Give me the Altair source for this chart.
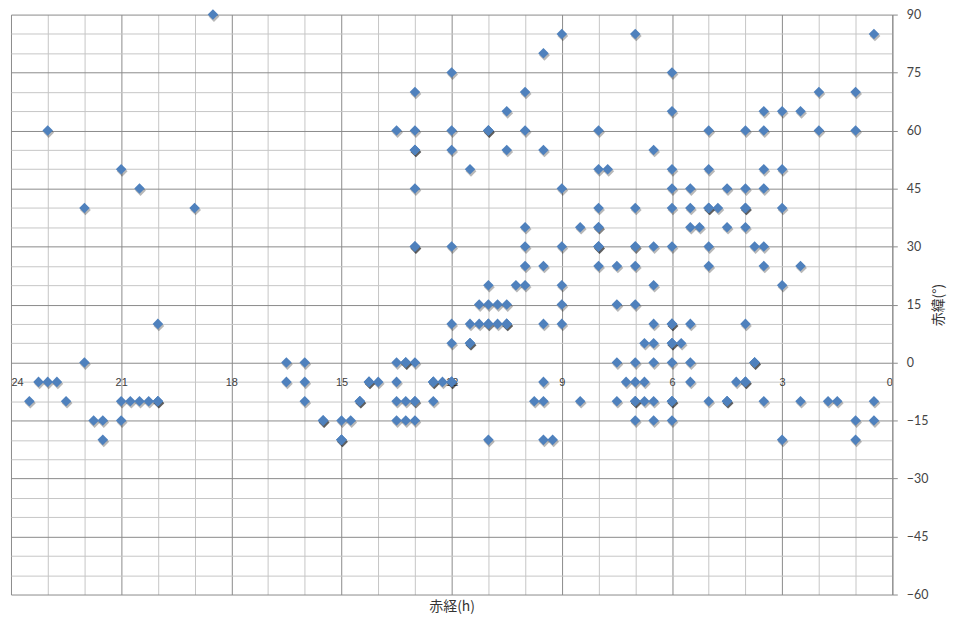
import altair as alt
import pandas as pd

# Right ascension (h) of the objects, grouped by declination row (deg).
# Repeated values are objects that share the same position.
dec_p90 = [18.5]
dec_p85 = [9, 7, 0.5]
dec_p80 = [9.5]
dec_p75 = [12, 6]
dec_p70 = [13, 10, 2, 1]
dec_p65 = [10.5, 6, 3.5, 3, 2.5]
dec_p60 = [23, 13.5, 13, 12, 11, 11, 11, 10, 8, 5, 4, 3.5, 2, 1]
dec_p55 = [13, 13, 13, 12, 10.5, 9.5, 6.5]
dec_p50 = [21, 11.5, 8, 7.75, 6, 5, 3.5, 3]
dec_p45 = [20.5, 13, 9, 6, 5.5, 4.5, 4, 3.5]
dec_p40 = [22, 19, 8, 7, 6, 5.5, 5, 5, 5, 4.75, 4, 4, 4, 3]
dec_p35 = [10, 8.5, 8, 8, 5.5, 5.25, 4.5, 4]
dec_p30 = [13, 13, 13, 12, 10, 9, 8, 8, 8, 7, 7, 6.5, 6, 5, 3.75, 3.5]
dec_p25 = [10, 9.5, 8, 7.5, 7, 5, 3.5, 2.5]
dec_p20 = [11, 10.25, 10, 9, 6.5, 3]
dec_p15 = [11.25, 11, 10.75, 10.5, 9, 7.5, 7]
dec_p10 = [20, 12, 11.5, 11.25, 11, 11, 10.75, 10.5, 10.5, 10.5, 9.5, 9,
           6.5, 6, 6, 6, 5.5, 4]
dec_p05 = [12, 11.5, 11.5, 11.5, 6.75, 6.5, 6, 6, 6, 5.75]
dec_0 = [22, 16.5, 16, 13.5, 13.25, 13.25, 13.25, 13, 7.5, 7, 6.5, 6, 5.5,
         3.75, 3.75, 3.75]
dec_m05 = [23.25, 23, 22.75, 16.5, 16, 14.25, 14.25, 14.25, 14, 13.5, 12.5,
           12.5, 12.5, 12.25, 12, 12, 12, 9.5, 7.25, 7, 6.75, 5.5, 4.25,
           4, 4, 4]
dec_m10 = [23.5, 22.5, 21, 20.75, 20.5, 20.25, 20, 20, 20, 16, 14.5, 14.5,
           14.5, 13.5, 13.25, 13, 13, 12.5, 9.75, 9.5, 8.5, 7.5, 7, 7, 7,
           6.75, 6.5, 6, 6, 6, 5, 4.5, 4.5, 4.5, 3.5, 2.5, 1.75, 1.5, 0.5]
dec_m15 = [21.75, 21.5, 21, 15.5, 15.5, 15.5, 15, 14.75, 13.5, 13.25, 13,
           7, 6.5, 6, 1, 0.5]
dec_m20 = [21.5, 15, 15, 15, 11, 9.5, 9.25, 3, 1]

rows = [
    (90, dec_p90), (85, dec_p85), (80, dec_p80), (75, dec_p75),
    (70, dec_p70), (65, dec_p65), (60, dec_p60), (55, dec_p55),
    (50, dec_p50), (45, dec_p45), (40, dec_p40), (35, dec_p35),
    (30, dec_p30), (25, dec_p25), (20, dec_p20), (15, dec_p15),
    (10, dec_p10), (5, dec_p05), (0, dec_0), (-5, dec_m05),
    (-10, dec_m10), (-15, dec_m15), (-20, dec_m20),
]

# axis ticks
ra_ticks = list(range(0, 25))          # every hour, labelled every 3 h
dec_ticks = list(range(-60, 91, 5))    # every 5 deg, labelled every 15 deg

ra_vals, dec_vals = [], []
for d, lst in rows:
    for r in lst:
        ra_vals.append(r)
        dec_vals.append(d)
df = pd.DataFrame({"ra": ra_vals, "dec": dec_vals})

W, H = 886, 583
zero_offset = -(H - H * 90 / 150)   # put RA labels on the 0 deg line

MAJOR = "#8A8A8A"
MINOR = "#C6C6C6"

x_scale = alt.Scale(domain=[0, 24], reverse=True, nice=False, zero=False)
y_scale = alt.Scale(domain=[-60, 90], nice=False, zero=False)

x_grid_axis = alt.Axis(
    values=ra_ticks,
    grid=True,
    gridColor={"condition": {"test": "datum.value % 3 === 0", "value": MAJOR}, "value": MINOR},
    gridWidth=1,
    labels=False,
    ticks=False,
    tickSize=0,
    domain=False,
    title="赤経(h)",
    titleFont="Noto Sans CJK JP",
    titleFontSize=14,
    titleFontWeight="normal",
    titleColor="#333333",
    titleX=W / 2,
    titleY=12,
    titleAlign="center",
    titleBaseline="middle",
)

x_label_axis = alt.Axis(
    orient="bottom",
    offset=zero_offset,
    values=ra_ticks,
    grid=False,
    ticks=False,
    tickSize=0,
    domain=False,
    labelExpr="datum.value % 3 === 0 ? datum.label : ''",
    labelFont="Liberation Sans",
    labelFontSize=11,
    labelColor="#404040",
    labelPadding=14,
    title=None,
)

y_axis = alt.Axis(
    orient="right",
    values=dec_ticks,
    tickCount=len(dec_ticks),
    grid=True,
    gridColor={"condition": {"test": "datum.value % 15 === 0", "value": MAJOR}, "value": MINOR},
    gridWidth=1,
    domain=True,
    domainColor=MAJOR,
    ticks=True,
    tickSize=5,
    tickColor={"condition": {"test": "datum.value % 15 === 0", "value": MAJOR}, "value": "rgba(0,0,0,0)"},
    labelExpr="datum.value % 15 === 0 ? datum.label : ''",
    labelFont="Lato",
    labelFontSize=12.5,
    labelColor="#444444",
    labelPadding=9,
    labelOverlap=False,
    title="赤緯(°)",
    titleFont="Noto Sans CJK JP",
    titleFontSize=14,
    titleFontWeight="normal",
    titleColor="#333333",
    titleAngle=270,
    titleX=46,
    titleY=H / 2,
    titleAlign="center",
    titleBaseline="middle",
)

shadow = alt.Chart(df).mark_point(
    shape="diamond", filled=True, color="#000000", opacity=0.28,
    size=118, xOffset=1, yOffset=2, strokeWidth=0,
).encode(
    x=alt.X("ra:Q", scale=x_scale, axis=x_grid_axis),
    y=alt.Y("dec:Q", scale=y_scale, axis=y_axis),
)

points = alt.Chart(df).mark_point(
    shape="diamond", filled=True, color="#4F81BD", opacity=1,
    size=112, strokeWidth=0,
).encode(
    x=alt.X("ra:Q", scale=x_scale, axis=x_label_axis),
    y=alt.Y("dec:Q", scale=y_scale, axis=y_axis),
)

chart = alt.layer(shadow, points).resolve_axis(x="independent").properties(
    width=W,
    height=H,
    padding={"left": 3, "top": 5, "right": 60, "bottom": 26},
    autosize=alt.AutoSizeParams(type="none"),
    background="#FFFFFF",
).configure_view(stroke=None)

chart.save("out.html", embed_options={"renderer": "svg", "actions": False})
